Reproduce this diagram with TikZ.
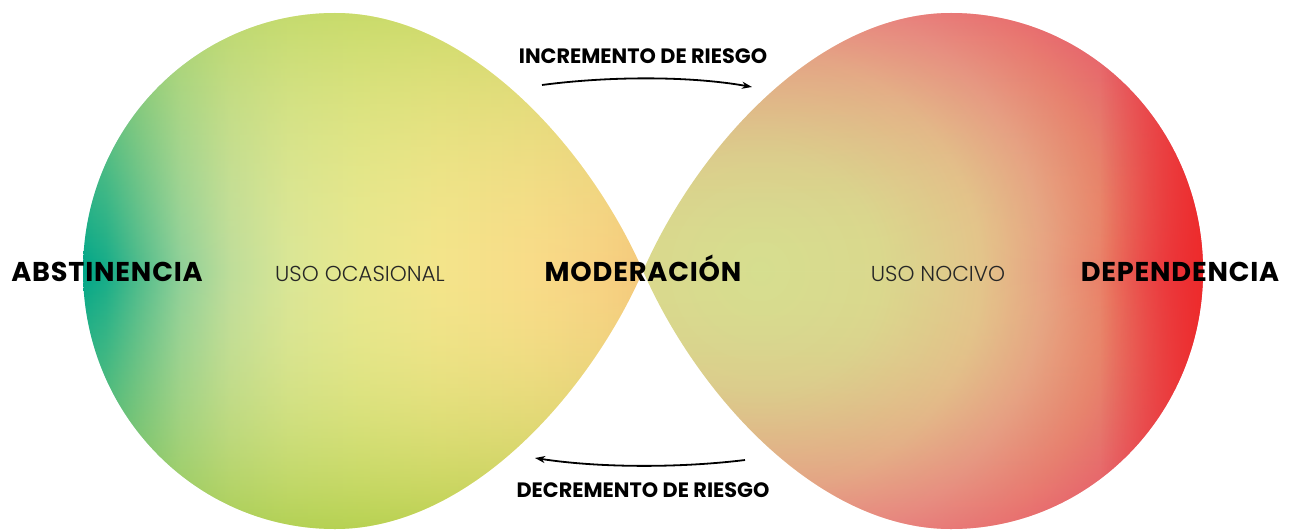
\documentclass[tikz,border=0pt]{standalone}
\usepackage{fontspec}
\setmainfont{Poppins}
\newfontfamily\lightfont{Poppins Light}
\usetikzlibrary{arrows.meta,fadings}

% colours of the two lobes
\definecolor{abstA}{HTML}{00A688}
\definecolor{abstB}{HTML}{14AC88}
\definecolor{abstC}{HTML}{50BC8C}
\definecolor{abstD}{HTML}{8ED098}
\definecolor{abstE}{HTML}{BEDD9A}
\definecolor{abstF}{HTML}{DAE696}
\definecolor{abstG}{HTML}{E8E88E}
\definecolor{abstH}{HTML}{F4E48A}
\definecolor{abstI}{HTML}{F9DC88}
\definecolor{abstJ}{HTML}{F8D282}
\definecolor{abstK}{HTML}{F5C97C}
\definecolor{abstTop}{HTML}{BCD65C}
\definecolor{abstBot}{HTML}{A2C838}
\definecolor{depA}{HTML}{D6DF90}
\definecolor{depB}{HTML}{DAD98E}
\definecolor{depC}{HTML}{E4C48A}
\definecolor{depD}{HTML}{E8A282}
\definecolor{depE}{HTML}{EA7A64}
\definecolor{depF}{HTML}{E84A5A}
\definecolor{depG}{HTML}{E8305A}
\definecolor{depPink}{HTML}{E86A7C}
\definecolor{depRed}{HTML}{EE2A28}

\pgfdeclarehorizontalshading{abstshade}{100bp}{color(0bp)=(abstA); color(25bp)=(abstA);
  color(27bp)=(abstB); color(30.1bp)=(abstC); color(33.7bp)=(abstD); color(38.1bp)=(abstE);
  color(43.5bp)=(abstF); color(49.7bp)=(abstG); color(56.9bp)=(abstH); color(64.9bp)=(abstI);
  color(71.2bp)=(abstJ); color(75bp)=(abstK); color(100bp)=(abstK)}
\pgfdeclareradialshading{depshade}{\pgfpointorigin}{color(0bp)=(depA); color(6.5bp)=(depB);
  color(12bp)=(depC); color(15.5bp)=(depD); color(19bp)=(depE); color(22.5bp)=(depF);
  color(25bp)=(depG); color(50bp)=(depG)}
\tikzfading[name=edgefade, top color=transparent!30, bottom color=transparent!30, middle color=transparent!100]
\tikzfading[name=softedge, top color=transparent!45, bottom color=transparent!45, middle color=transparent!100]
\tikzfading[name=toright, left color=transparent!100, right color=transparent!5]

\begin{document}
\begin{tikzpicture}[x=0.5pt,y=-0.5pt,
    big/.style={font=\bfseries\fontsize{13.6}{14}\selectfont\addfontfeatures{LetterSpace=3},anchor=base},
    usotext/.style={font=\lightfont\fontsize{10.8}{12}\selectfont,anchor=base,text=black!85},
    risk/.style={font=\bfseries\fontsize{10.4}{11}\selectfont,anchor=base},
    riskarrow/.style={line width=0.9pt,-{Stealth[length=5pt,width=3.5pt,inset=1.5pt]}}]
  \useasboundingbox (0,0) rectangle (1293,529);
  % left lobe
  \begin{scope}
    \clip (643,271) .. controls (590,150) and (470,13) .. (335,13)
      .. controls (196,13) and (83,128) .. (83,271)
      .. controls (83,414) and (196,529) .. (335,529)
      .. controls (470,529) and (590,392) .. (643,271) -- cycle;
    \shade[shading=abstshade] (83,13) rectangle (643,529);
    \shade[top color=abstTop,bottom color=abstBot,middle color=abstG,path fading=edgefade] (83,13) rectangle (643,529);
  \end{scope}
  % right lobe
  \begin{scope}
    \clip (643,271) .. controls (696,150) and (816,13) .. (951,13)
      .. controls (1090,13) and (1203,128) .. (1203,271)
      .. controls (1203,414) and (1090,529) .. (951,529)
      .. controls (816,529) and (696,392) .. (643,271) -- cycle;
    \shade[shading=depshade] (760,271) circle (460);
    \shade[top color=depPink,bottom color=depPink,middle color=depB,path fading=softedge] (643,13) rectangle (1203,529);
    \shade[left color=depRed,right color=depRed,path fading=toright] (1100,13) rectangle (1203,529);
  \end{scope}
  % labels
  \node[big] (abst) at (107,281) {ABSTINENCIA};
  \node[big] (mod) at (643,281) {MODERACIÓN};
  \node[big] (dep) at (1180,281) {DEPENDENCIA};
  \node[usotext] (ocas) at (360,281) {USO OCASIONAL};
  \node[usotext] (nociv) at (938,281) {USO NOCIVO};
  \node[risk] (inc) at (643,64) {INCREMENTO DE RIESGO};
  \node[risk] (dec) at (643,497) {DECREMENTO DE RIESGO};
  % arrows
  \coordinate (incA) at (542,85);
  \coordinate (incB) at (752,87);
  \coordinate (decA) at (745,460);
  \coordinate (decB) at (535,458);
  \draw[riskarrow] (incA) .. controls (610,76) and (690,76) .. (incB);
  \draw[riskarrow] (decA) .. controls (680,468) and (600,468) .. (decB);
\end{tikzpicture}
\end{document}
